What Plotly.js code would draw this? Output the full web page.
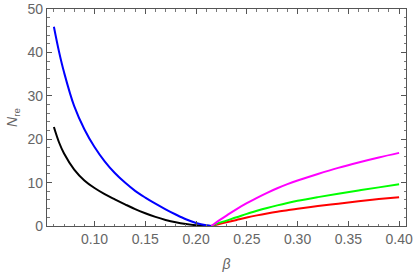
<!DOCTYPE html>
<html><head><meta charset="utf-8">
<script src="https://cdn.plot.ly/plotly-3.0.1.min.js"></script>
<style>html,body{margin:0;padding:0;background:#fff}#c{width:415px;height:277px}</style>
</head><body><div id="c"></div>
<script>
// Left branch (beta below the crossing point ~0.215)
const xLeft = [0.06, 0.065, 0.07, 0.08, 0.09, 0.10, 0.11, 0.12, 0.13, 0.14, 0.15, 0.16, 0.17, 0.18, 0.19, 0.20, 0.21, 0.215];
const yBlue = [45.9, 40.2, 35.4, 27.6, 22.3, 18.2, 14.9, 12.2, 10.0, 8.1, 6.55, 5.15, 3.85, 2.65, 1.55, 0.7, 0.15, 0.0];
const yBlack = [22.8, 19.3, 16.7, 13.0, 10.5, 8.75, 7.35, 6.15, 5.0, 3.9, 2.95, 2.1, 1.4, 0.85, 0.45, 0.18, 0.03, 0.0];
// Right branch (beta above the crossing point)
const xRight = [0.215, 0.22, 0.23, 0.24, 0.25, 0.26, 0.27, 0.28, 0.29, 0.30, 0.32, 0.34, 0.36, 0.38, 0.40];
const yMagenta = [0.0, 0.85, 2.4, 3.9, 5.25, 6.5, 7.65, 8.7, 9.65, 10.5, 12.0, 13.4, 14.65, 15.8, 16.85];
const yGreen = [0.0, 0.5, 1.25, 2.0, 2.8, 3.5, 4.15, 4.75, 5.3, 5.8, 6.65, 7.45, 8.2, 8.9, 9.6];
const yRed = [0.0, 0.3, 0.85, 1.4, 1.95, 2.45, 2.9, 3.3, 3.65, 4.0, 4.6, 5.15, 5.7, 6.2, 6.65];
const xTicks = [0.10, 0.15, 0.20, 0.25, 0.30, 0.35, 0.40];
const yTicks = [0, 10, 20, 30, 40, 50];

const ln = (x, y, c) => ({x, y, type:'scatter', mode:'lines', line:{color:c, width:2, shape:'spline', smoothing:1}, hoverinfo:'skip', showlegend:false});
const data = [
  ln(xLeft, yBlack, '#000000'),
  ln(xLeft, yBlue, '#0000ff'),
  ln(xRight, yRed, '#ff0000'),
  ln(xRight, yGreen, '#00ff00'),
  ln(xRight, yMagenta, '#ff00ff')
];
const fontFam = 'Liberation Sans, Arial, sans-serif';
const axCommon = {
  showgrid:false, zeroline:false, showline:true, linecolor:'#555', linewidth:1.2,
  mirror:'ticks', ticks:'inside', ticklen:5, tickwidth:1, tickcolor:'#555',
  tickfont:{family:fontFam, size:14, color:'#666'}
};
const layout = {
  width:415, height:277,
  margin:{l:47, r:9, t:9, b:51},
  paper_bgcolor:'#fff', plot_bgcolor:'#fff',
  xaxis: Object.assign({}, axCommon, {
    range:[0.0532, 0.4068], tickvals:xTicks, ticktext:xTicks.map(v=>v.toFixed(2)),
    minor:{dtick:0.01, tick0:0, ticks:'inside', ticklen:2.5, tickcolor:'#777', tickwidth:1},
    title:{text:'<i>β</i>', font:{family:fontFam, size:14, color:'#666'}, standoff:13}
  }),
  yaxis: Object.assign({}, axCommon, {
    range:[0, 50], tickvals:yTicks, ticktext:yTicks.map(String),
    minor:{dtick:2, tick0:0, ticks:'inside', ticklen:2.5, tickcolor:'#777', tickwidth:1},
    title:{text:'<i>N</i><sub>re</sub>', font:{family:fontFam, size:14, color:'#666'}, standoff:6}
  })
};
Plotly.newPlot('c', data, layout, {staticPlot:true, displayModeBar:false});
</script></body></html>
